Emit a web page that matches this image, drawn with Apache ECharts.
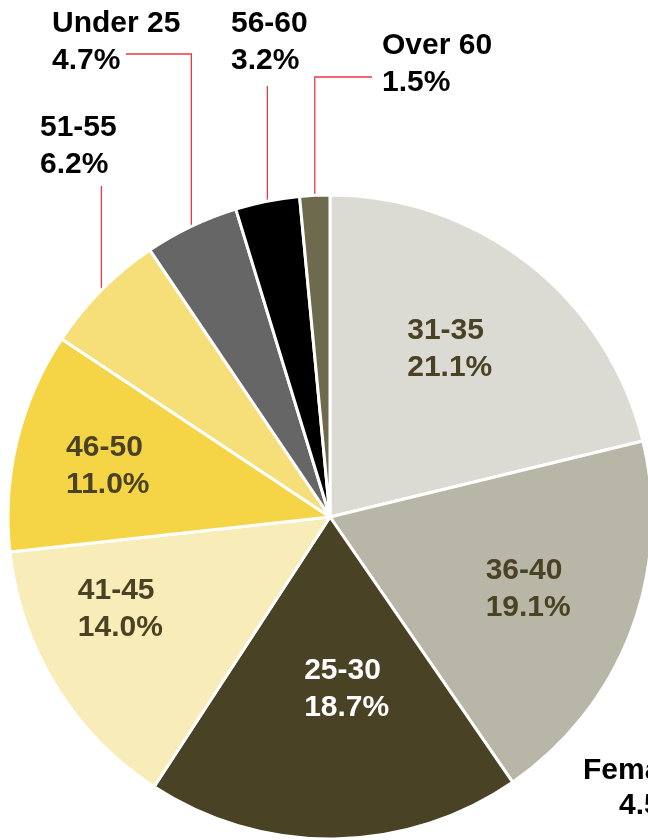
<!DOCTYPE html>
<html>
<head>
<meta charset="utf-8">
<script src="https://cdn.jsdelivr.net/npm/echarts@6/dist/echarts.min.js"></script>
<style>
html, body { margin: 0; padding: 0; background: #fff; }
#main { width: 648px; height: 840px; }
</style>
</head>
<body>
<div id="main"></div>
<script>
// age groups, clockwise from 12 o'clock
var categories = ['31-35', '36-40', '25-30', '41-45', '46-50', '51-55', 'Under 25', '56-60', 'Over 60'];
var shares = [21.1, 19.1, 18.7, 14.0, 11.0, 6.2, 4.7, 3.2, 1.5];
var colors = ['#dcdbd3', '#b8b6a6', '#4a4224', '#f8ecb8', '#f5d545', '#f6de78', '#666666', '#000000', '#6e6a4e'];
var outsideNames = ['51-55', 'Under 25', '56-60', 'Over 60'];

var cx = 330, cy = 517, R = 322;
var FONT = '"Liberation Sans", Arial, sans-serif';

// where the outside labels sit and how their red leader lines run
var outsideLayout = {
	'51-55':    { x: 40,  y: 109, topY: 186 },
	'Under 25': { x: 52,  y: 5,   lineY: 54, lineX: 126 },
	'56-60':    { x: 231, y: 5,   topY: 86 },
	'Over 60':  { x: 382, y: 27,  lineY: 77, lineX: 372 }
};
// small shifts of the inside labels (best-fit placement in the original)
var insideNudge = {
	'31-35': [-12, 0],
	'36-40': [-1, -4],
	'25-30': [14, -41],
	'41-45': [-28, -19],
	'46-50': [-15, 0]
};

var Container = document.getElementById('main');
var myChart = echarts.init(Container);

var data = categories.map(function (name, i) {
	var outside = outsideNames.indexOf(name) >= 0;
	return {
		name: name,
		value: shares[i],
		itemStyle: { color: colors[i] },
		label: outside ? {
			position: 'outside',
			color: '#000'
		} : {
			position: 'inside',
			color: name === '25-30' ? '#ffffff' : '#4a4224'
		},
		labelLine: { show: outside }
	};
});

var option = {
	animation: false,
	series: [{
		type: 'pie',
		center: [cx, cy],
		radius: [0, R],
		startAngle: 90,
		clockwise: true,
		avoidLabelOverlap: false,
		itemStyle: { borderColor: '#ffffff', borderWidth: 3 },
		label: {
			fontFamily: FONT,
			fontWeight: 'bold',
			fontSize: 30,
			lineHeight: 37,
			formatter: function (p) {
				return p.name + '\n' + p.value.toFixed(1) + '%';
			}
		},
		labelLine: {
			lineStyle: { color: '#e83a46', width: 1.3 }
		},
		labelLayout: function (p) {
			var name = categories[p.dataIndex];
			var o = outsideLayout[name];
			if (o) {
				var p0 = p.labelLinePoints ? p.labelLinePoints[0] : [cx, cy - R];
				var pts;
				if (o.lineX != null) {
					pts = [p0, [p0[0], o.lineY], [o.lineX, o.lineY]];
				} else {
					pts = [p0, [p0[0], o.topY], [p0[0], o.topY]];
				}
				return { x: o.x, y: o.y, align: 'left', verticalAlign: 'top', labelLinePoints: pts };
			}
			var r = p.labelRect;
			var lx = r.x + r.width / 2, ly = r.y + r.height / 2;
			var n = insideNudge[name] || [0, 0];
			var mx = cx + (lx - cx) * 1.3 + n[0];
			var my = cy + (ly - cy) * 1.3 + n[1];
			return {
				x: mx - r.width / 2,
				y: my,
				align: 'left',
				verticalAlign: 'middle'
			};
		},
		data: data
	}],
	graphic: [
		{ type: 'text', left: 583, top: 756, style: { text: 'Female', font: 'bold 30px ' + FONT, fill: '#000' } },
		{ type: 'text', left: 619, top: 791, style: { text: '4.5%', font: 'bold 30px ' + FONT, fill: '#000' } }
	]
};
myChart.setOption(option);
</script>
</body>
</html>
